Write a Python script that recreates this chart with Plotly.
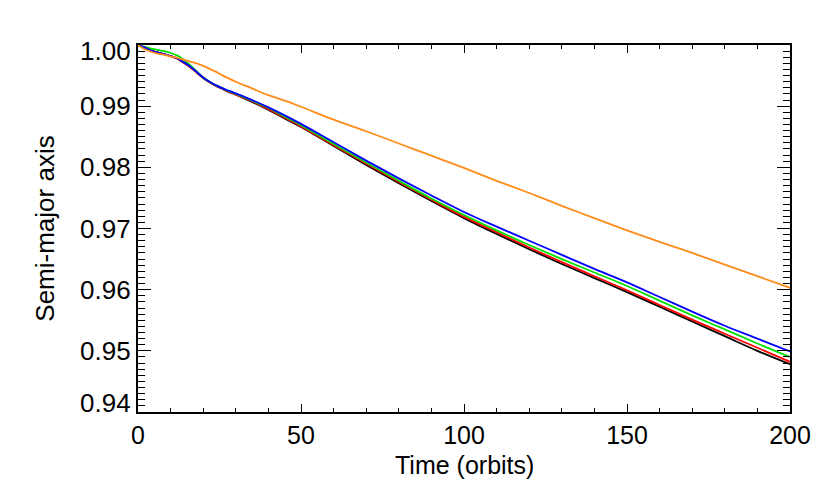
import plotly.graph_objects as go

# Time in orbits where values were read
t = [0, 2, 4, 6, 8, 10, 12, 14, 16, 18, 20, 22, 24, 26, 28, 30, 35, 40, 45,
     50, 60, 70, 80, 90, 100, 110, 120, 130, 140, 150, 160, 170, 180, 190, 200]

a_black = [1.0000, 0.9996, 0.9991, 0.9988, 0.9985, 0.9982, 0.9978, 0.9971, 0.9964, 0.9955,
           0.9946, 0.9939, 0.9933, 0.9928, 0.9923, 0.9919, 0.9907, 0.9894, 0.9880,
           0.9866, 0.9835, 0.9804, 0.9774, 0.9745, 0.9717, 0.9691, 0.9666, 0.9642, 0.9619,
           0.9596, 0.9572, 0.9548, 0.9524, 0.9500, 0.9478]
a_red = [1.0000, 0.9996, 0.9991, 0.9988, 0.9985, 0.9982, 0.9978, 0.9971, 0.9964, 0.9955,
         0.9946, 0.9939, 0.9933, 0.9928, 0.9923, 0.9919, 0.9908, 0.9895, 0.9881,
         0.9867, 0.9836, 0.9806, 0.9776, 0.9747, 0.9719, 0.9694, 0.9669, 0.9645, 0.9622,
         0.9599, 0.9575, 0.9551, 0.9528, 0.9505, 0.9482]
a_green = [1.0000, 0.9997, 0.9994, 0.9992, 0.9990, 0.9987, 0.9983, 0.9976, 0.9967, 0.9957,
           0.9947, 0.9940, 0.9934, 0.9929, 0.9924, 0.9920, 0.9909, 0.9897, 0.9883,
           0.9869, 0.9838, 0.9808, 0.9778, 0.9749, 0.9722, 0.9697, 0.9673, 0.9650, 0.9628,
           0.9606, 0.9582, 0.9558, 0.9535, 0.9512, 0.9490]
a_blue = [1.0000, 0.9996, 0.9991, 0.9988, 0.9985, 0.9982, 0.9978, 0.9972, 0.9965, 0.9956,
          0.9947, 0.9940, 0.9934, 0.9929, 0.9925, 0.9921, 0.9910, 0.9898, 0.9885,
          0.9871, 0.9841, 0.9811, 0.9782, 0.9754, 0.9727, 0.9703, 0.9680, 0.9657, 0.9634,
          0.9612, 0.9588, 0.9564, 0.9541, 0.9520, 0.9499]
a_orange = [1.0000, 0.9993, 0.9989, 0.9986, 0.9984, 0.9981, 0.9979, 0.9976, 0.9973, 0.9970,
            0.9966, 0.9961, 0.9956, 0.9950, 0.9945, 0.9940, 0.9929, 0.9918, 0.9909,
            0.9899, 0.9878, 0.9859, 0.9839, 0.9819, 0.9799, 0.9778, 0.9758, 0.9737, 0.9717,
            0.9697, 0.9678, 0.9660, 0.9641, 0.9622, 0.9603]

y_ticks = [0.94, 0.95, 0.96, 0.97, 0.98, 0.99, 1.00]
x_ticks = [0, 50, 100, 150, 200]

font = "Liberation Sans, Arial, Helvetica, sans-serif"

fig = go.Figure()
for ys, col in [(a_black, "black"), (a_red, "#ff0000"), (a_green, "#00e000"),
                (a_blue, "#0000ff"), (a_orange, "#ff8c1a")]:
    fig.add_trace(go.Scatter(x=t, y=ys, mode="lines", line=dict(color=col, width=1.8),
                             line_shape="spline", showlegend=False))

axis_common = dict(
    showgrid=False, zeroline=False, showline=True, linecolor="black", linewidth=1.5,
    mirror="allticks", ticks="inside", tickcolor="black", tickwidth=1,
)

fig.update_xaxes(range=[0, 200], tickvals=x_ticks, ticklen=8,
                 tickfont=dict(family=font, size=25, color="black"),
                 minor=dict(dtick=10, ticks="inside", ticklen=4, tickcolor="black"),
                 **axis_common)
fig.update_yaxes(range=[0.94, 1.00], tickvals=y_ticks, ticklen=13, showticklabels=False,
                 minor=dict(dtick=0.001, ticks="inside", ticklen=7, tickcolor="black"),
                 title=dict(text="Semi-major axis", font=dict(family=font, size=26, color="black"),
                            standoff=74),
                 **axis_common)

# y tick labels; the end ones are nudged inward as in the original
end_shift = {0.94: 9, 1.00: -6}
for v in y_ticks:
    fig.add_annotation(x=0, xref="paper", y=v, yref="y", text=f"{v:.2f}", showarrow=False,
                       xanchor="right", xshift=-5, yshift=end_shift.get(v, 0),
                       font=dict(family=font, size=26, color="black"))

fig.add_annotation(x=0.5, xref="paper", y=0, yref="paper", text="Time (orbits)",
                   showarrow=False, yanchor="top", yshift=-37,
                   font=dict(family=font, size=25, color="black"))

fig.update_layout(
    width=830, height=499,
    margin=dict(l=130, r=48, t=37, b=95),
    plot_bgcolor="white", paper_bgcolor="white",
)

fig.write_html("out.html")
